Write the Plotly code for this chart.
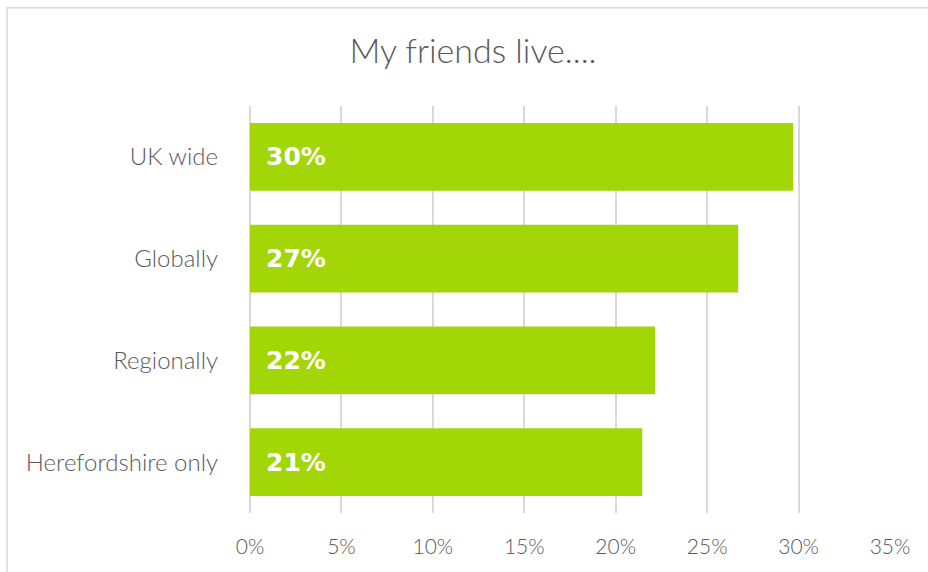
import plotly.graph_objects as go

# Where respondents' friends live (share of responses)
categories = ["UK wide", "Globally", "Regionally", "Herefordshire only"]
shares = [0.297, 0.267, 0.2215, 0.2145]
tick_values = [0, 0.05, 0.10, 0.15, 0.20, 0.25, 0.30, 0.35]
tick_labels = ["0%", "5%", "10%", "15%", "20%", "25%", "30%", "35%"]

BAR = "#A2D606"
GREY = "#595959"
GRID = "#D9D9D9"

W, H = 928, 572
L, R, T, B = 250, 38, 105.5, 58.5
pw, ph = W - L - R, H - T - B


def px_to_paper(x, y):
    return (x - L) / pw, (H - B - y) / ph


fig = go.Figure(
    go.Bar(
        x=shares,
        y=categories,
        orientation="h",
        marker=dict(color=BAR, line=dict(width=0)),
        width=0.667,
        hoverinfo="skip",
    )
)

# value labels at the start of each bar
for cat, v in zip(categories, shares):
    fig.add_annotation(
        x=0, y=cat, xref="x", yref="y",
        text=f"<b>{v * 100:.0f}%</b>",
        showarrow=False, xanchor="left", yanchor="middle",
        xshift=14,
        font=dict(family="DejaVu Sans, sans-serif", size=25, color="white"),
    )

# light frame around the chart area
x0, y0 = px_to_paper(7, 600)
x1, y1 = px_to_paper(7, 7)
x2, _ = px_to_paper(940, 7)
fig.add_shape(
    type="path", xref="paper", yref="paper",
    path=f"M {x0} {y0} L {x1} {y1} L {x2} {y1}",
    line=dict(color=GRID, width=1.5),
)

fig.update_layout(
    width=W, height=H,
    margin=dict(l=L, r=R, t=T, b=B, pad=0),
    paper_bgcolor="white", plot_bgcolor="white",
    showlegend=False,
    title=dict(
        text="My friends live....",
        x=473 / W, xanchor="center",
        y=1 - 51 / H, yanchor="middle",
        font=dict(family="Lato, sans-serif", size=34, color=GREY, weight=300),
    ),
    xaxis=dict(
        range=[0, 0.35],
        tickvals=tick_values, ticktext=tick_labels,
        showgrid=True, gridcolor=GRID, gridwidth=1.5,
        zeroline=True, zerolinecolor=GRID, zerolinewidth=1.5,
        showline=False, ticks="",
        ticklabelstandoff=19,
        tickfont=dict(family="Lato, sans-serif", size=21, color=GREY, weight=300),
        fixedrange=True,
    ),
    yaxis=dict(
        categoryorder="array", categoryarray=categories,
        autorange="reversed",
        showgrid=False, zeroline=False, showline=False, ticks="",
        ticklabelstandoff=31,
        tickfont=dict(family="Lato, sans-serif", size=24, color=GREY, weight=300),
        fixedrange=True,
    ),
)

fig.write_html("out.html")
